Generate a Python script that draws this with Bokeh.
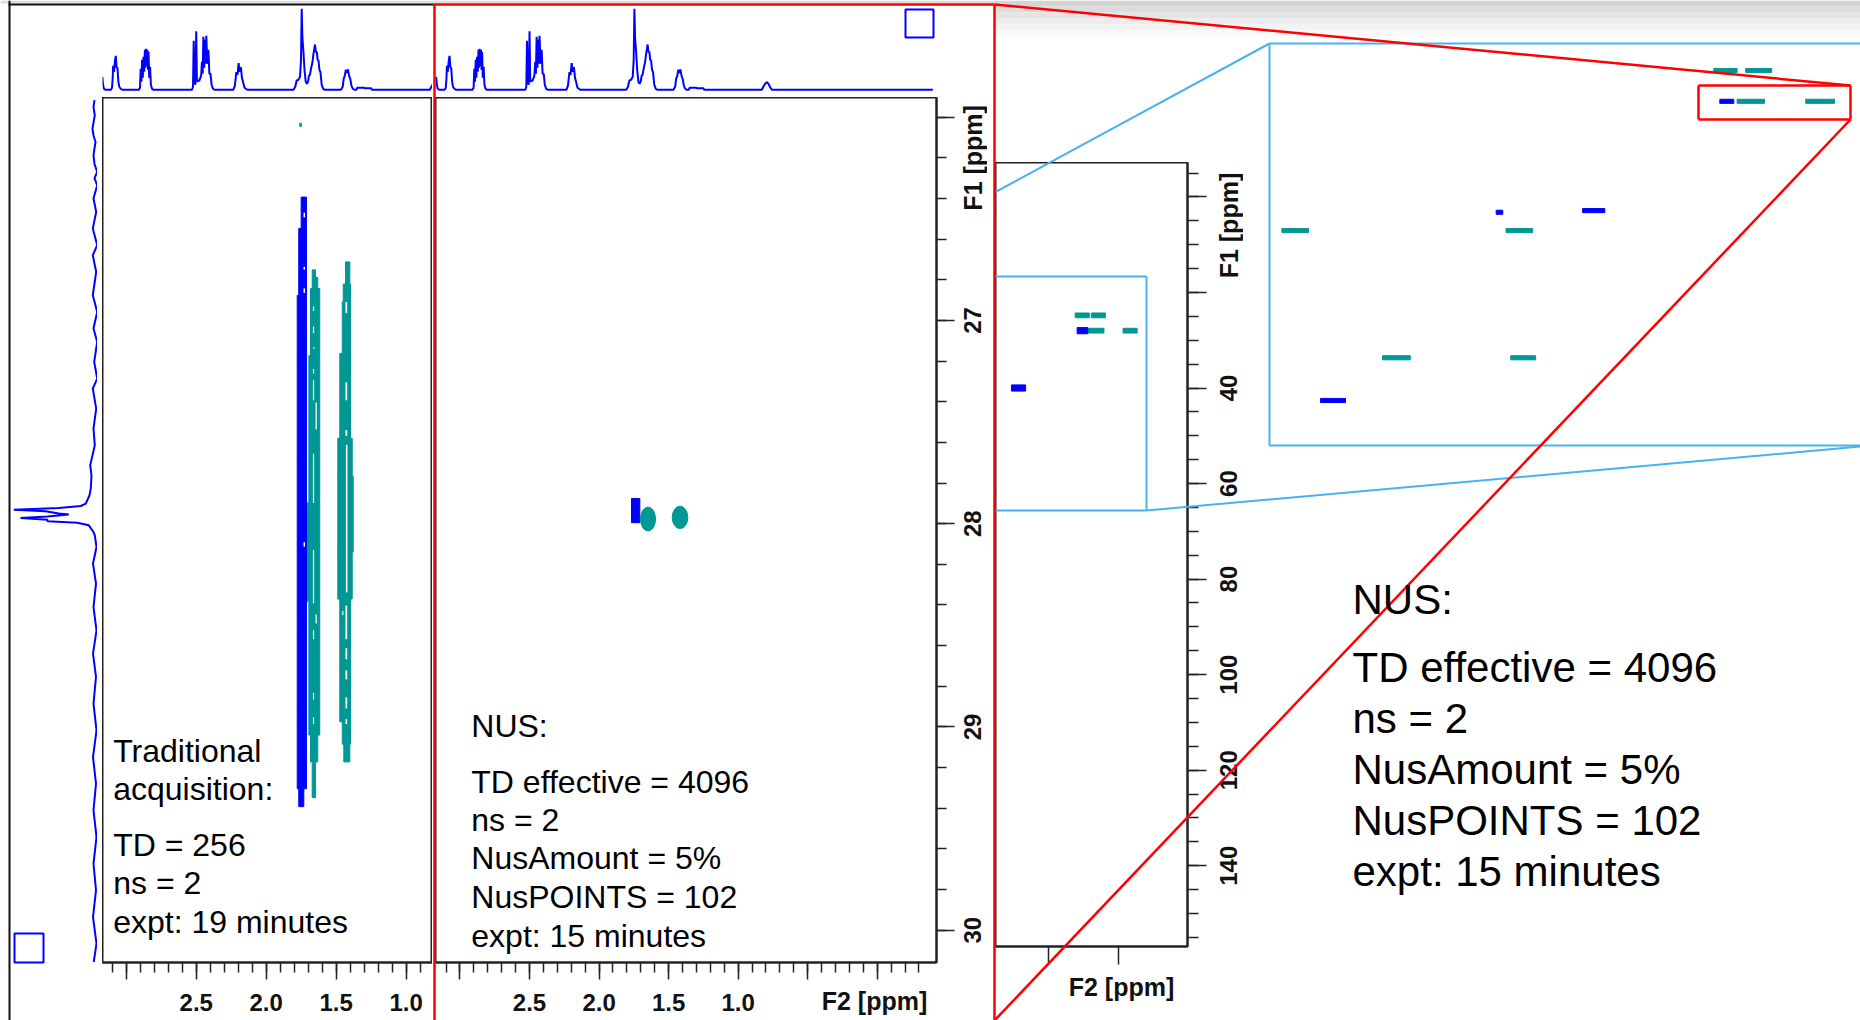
import math
from bokeh.plotting import figure
from bokeh.models import Range1d, LinearAxis, FixedTicker, PrintfTickFormatter, Column
from bokeh.core.properties import value
from bokeh.embed import file_html
from bokeh.resources import INLINE

# ---------------- data ----------------
# 1H 1D spectrum shown above the 2D panels (F2 ppm, intensity)
h_ppm = [3.180, 3.175, 3.171, 3.166, 3.160, 3.150,
         3.110, 3.102, 3.097, 3.094, 3.088, 3.080, 3.075, 3.069, 3.063, 3.057, 3.050, 3.040, 3.030,
         2.910, 2.902, 2.897, 2.892, 2.887, 2.882, 2.877, 2.872, 2.867, 2.863, 2.859, 2.854, 2.849, 2.845, 2.841, 2.836, 2.830, 2.824, 2.816, 2.805,
         2.530, 2.523, 2.518, 2.513, 2.506, 2.500, 2.495, 2.489, 2.479, 2.471, 2.465, 2.459, 2.454, 2.449, 2.443, 2.437, 2.433, 2.428, 2.421, 2.413, 2.406, 2.398, 2.390, 2.380, 2.370,
         2.235, 2.224, 2.213, 2.205, 2.197, 2.189, 2.181, 2.173, 2.165, 2.155, 2.145, 2.135,
         1.805, 1.792, 1.782, 1.770, 1.758, 1.751, 1.746, 1.741, 1.734, 1.726, 1.717, 1.709, 1.701, 1.694, 1.687, 1.681, 1.675, 1.669, 1.663, 1.657, 1.651, 1.645, 1.638, 1.632, 1.626, 1.619, 1.612, 1.603, 1.592, 1.580,
         1.465, 1.453, 1.446, 1.438, 1.430, 1.422, 1.415, 1.407, 1.399, 1.390, 1.380, 1.370,
         1.355, 1.348, 1.300, 1.294, 1.250, 1.244,
         0.830, 0.819, 0.806, 0.792, 0.782, 0.768, 0.756, -0.400]
h_int = [6, 12, 12.7, 5, 1, 0,
         0, 2, 12, 24, 18, 30, 34, 22, 22, 9, 3, 1, 0,
         0, 2, 21, 8, 30, 12, 33, 18, 40, 22, 41, 24, 40, 20, 38, 12, 23, 5, 1, 0,
         0, 3, 49, 9, 5, 58.6, 8, 9, 9, 12, 14, 28, 16, 53, 22, 50, 26, 54, 26, 40, 16, 16, 5, 1, 0,
         0, 4, 17.7, 15, 26.7, 18, 22.7, 12, 7.7, 2, 1, 0,
         0, 3, 9.3, 10, 13, 30, 81, 52, 39, 20, 8, 6, 8, 14, 15, 20, 24, 27.7, 35, 40, 45.3, 38, 37.7, 30, 29.3, 20, 17.7, 5, 1, 0,
         0, 3, 11, 14, 20, 17, 20.3, 14, 11, 4, 1, 0,
         0, 2, 2, 1.5, 1.5, 0,
         0, 3, 6, 7.7, 6, 2, 0, 0]

# 13C projection on the left (F1 ppm, intensity)
c_ppm = [25.916, 25.950, 25.990, 26.056, 26.090, 26.122, 26.187, 26.230, 26.269, 26.300, 26.335, 26.400,
         26.466, 26.548, 26.630, 26.679, 26.761, 26.876, 26.958, 27.040, 27.106, 27.204, 27.286, 27.335,
         27.434, 27.532, 27.614, 27.713, 27.762, 27.827, 27.860, 27.901, 27.913, 27.923, 27.931, 27.939,
         27.950, 27.955, 27.964, 27.972, 27.980, 27.988, 27.995, 28.008, 28.041, 28.057, 28.115, 28.196,
         28.295, 28.410, 28.525, 28.639, 28.754, 28.885, 29.017, 29.148, 29.279, 29.410, 29.542, 29.673,
         29.804, 29.936, 30.066, 30.165]
c_int = [-1, 0, -1.3, 1, 0, -2, 0, -1, -3.7, -1, -3.7, 0,
         -2.7, 0.7, -3.7, 0.7, -2.7, 0.7, -3.7, 0, -3.7, -0.7, -3.7, 0.7,
         -2.7, 0, -1.3, 3.3, 2, 2.7, 4, 7.7, 12.7, 34.7, 79.7, 48,
         34.7, 24.7, 46, 73, 46, 46, 16.3, 4.7, 0, -1.3, -3, 0.5,
         -2.5, 0, -3, 0.5, -2.5, 0, -3, 0.5, -2.5, 0, -3, 0,
         -2.5, 0.5, -3, 0]

# Traditional acquisition: contour streaks (F2 high, F2 low, F1 top, F1 bottom)
trad_blue_x0 = [1.750, 1.767, 1.778, 1.767]
trad_blue_x1 = [1.712, 1.712, 1.712, 1.731]
trad_blue_y0 = [26.393, 26.547, 26.876, 29.304]
trad_blue_y1 = [26.547, 26.876, 29.304, 29.392]

trad_teal_x0 = [1.671, 1.671, 1.683, 1.695, 1.712, 1.695, 1.683, 1.671,
                1.433, 1.449, 1.456, 1.474, 1.488, 1.488, 1.488, 1.474, 1.456, 1.445, 1.760]
trad_teal_x1 = [1.647, 1.631, 1.617, 1.617, 1.617, 1.617, 1.631, 1.647,
                1.402, 1.397, 1.397, 1.397, 1.385, 1.378, 1.385, 1.397, 1.397, 1.402, 1.748]
trad_teal_y0 = [26.751, 26.788, 26.843, 27.173, 27.898, 28.381, 29.040, 29.172,
                26.712, 26.821, 26.909, 27.162, 27.580, 27.766, 28.140, 28.371, 28.974, 29.085, 26.030]
trad_teal_y1 = [26.788, 26.843, 27.173, 27.898, 28.381, 29.040, 29.172, 29.348,
                26.821, 26.909, 27.162, 27.580, 27.766, 28.140, 28.371, 28.974, 29.085, 29.172, 26.045]

# unfilled gaps inside the contour streaks
gap_x0 = [1.666, 1.666, 1.662, 1.666, 1.666, 1.647, 1.666, 1.666, 1.647, 1.666, 1.666, 1.666,
          1.433, 1.433, 1.433, 1.430, 1.433, 1.433, 1.433, 1.433, 1.433, 1.456,
          1.733, 1.733, 1.733, 1.733]
gap_x1 = [1.657, 1.657, 1.655, 1.657, 1.657, 1.638, 1.657, 1.657, 1.638, 1.657, 1.657, 1.657,
          1.421, 1.421, 1.421, 1.419, 1.421, 1.421, 1.421, 1.421, 1.421, 1.448,
          1.722, 1.722, 1.722, 1.722]
gap_y0 = [26.931, 27.030, 27.129, 27.239, 27.294, 27.404, 27.656, 28.129, 28.447, 28.524, 28.832, 28.953,
          26.909, 27.305, 27.539, 27.612, 28.403, 28.612, 28.722, 28.854, 28.962, 28.430,
          26.470, 26.737, 26.842, 28.091]
gap_y1 = [26.953, 27.063, 27.140, 27.261, 27.393, 27.536, 27.898, 28.392, 28.491, 28.568, 28.865, 28.986,
          26.964, 27.393, 27.568, 28.338, 28.568, 28.667, 28.766, 28.909, 28.986, 28.450,
          26.492, 26.750, 26.864, 28.113]

# NUS acquisition: cross peaks
nus_blue_x0 = [1.767]
nus_blue_x1 = [1.707]
nus_blue_y0 = [27.876]
nus_blue_y1 = [27.995]
nus_teal_x = [1.648, 1.418]
nus_teal_y = [27.977, 27.969]
nus_teal_w = [0.108, 0.112]
nus_teal_h = [0.117, 0.110]

# full-range inset: cross peaks (F2 high, F2 low, F1)
ins_teal_x0 = [1.617, 1.390, 1.440, 0.940]
ins_teal_x1 = [1.418, 1.190, 1.210, 0.740]
ins_teal_f1 = [24.8, 24.8, 28.0, 28.0]
ins_blue_x0 = [1.590, 2.520]
ins_blue_x1 = [1.440, 2.320]
ins_blue_f1 = [28.0, 40.0]

# enlarged region: cross peaks (F2 high, F2 low, F1)
zm_teal_x0 = [2.705, 1.888, 2.338, 1.871, 1.046, 0.796, 1.131, 1.015]
zm_teal_x1 = [2.608, 1.791, 2.237, 1.780, 0.946, 0.691, 1.046, 0.920]
zm_teal_f1 = [39.42, 39.42, 54.92, 54.92, 23.69, 23.69, 19.94, 19.94]
zm_blue_x0 = [1.609, 2.564, 1.109, 1.924]
zm_blue_x1 = [1.528, 2.473, 1.058, 1.900]
zm_blue_f1 = [37.0, 60.12, 23.69, 37.2]

# axis ticks and labels
f2_major = [3.0, 2.5, 2.0, 1.5, 1.0, 0.5, 0.0]
f2_minor = [round(3.1 - 0.1 * i, 1) for i in range(35)]
f1_major = [26, 27, 28, 29, 30]
f1_minor = [round(26.0 + 0.2 * i, 1) for i in range(21)]
f1_labels = [27, 28, 29, 30]
ins_f1_major = [0, 20, 40, 60, 80, 100, 120, 140]
ins_f1_minor = [-5 + 5 * i for i in range(33)]
ins_f1_labels = [40, 60, 80, 100, 120, 140]
ins_f2_major = [2.0, 1.0]
f1_title_pos = 26.20      # F1 position of the "F1 [ppm]" title, NUS panel
ins_f1_title_pos = 6.0    # F1 position of the "F1 [ppm]" title, inset

trad_text = ["Traditional", "acquisition:", "TD = 256", "ns = 2", "expt: 19 minutes"]
nus_text = ["NUS:", "TD effective = 4096", "ns = 2", "NusAmount = 5%", "NusPOINTS = 102", "expt: 15 minutes"]

# ---------------- styling ----------------
FONT = "Liberation Sans"
BLUE = "#0000ff"
TEAL = "#009794"
RED = "#ff0000"
LBLUE = "#48b2f0"
FRAME = "#222222"
INK = "#111111"


def panel(left, top, fw, fh, xr, yr, mb_right=0, mb_bottom=0):
    p = figure(frame_width=fw, frame_height=fh, x_range=xr, y_range=yr,
               x_axis_type=None, y_axis_type=None, output_backend="svg",
               toolbar_location=None, min_border_left=0, min_border_top=0,
               min_border_right=mb_right, min_border_bottom=mb_bottom,
               background_fill_color=None, border_fill_color=None,
               outline_line_color=None)
    p.styles = {"position": "absolute", "left": f"{left}px", "top": f"{top}px"}
    return p


def axis(ticks, minor, fmt, overrides=None, out=17, mout=10, standoff=14):
    ax = LinearAxis(ticker=FixedTicker(ticks=ticks, minor_ticks=minor),
                    formatter=PrintfTickFormatter(format=fmt),
                    axis_line_color=FRAME, axis_line_width=2,
                    major_tick_line_color=FRAME, major_tick_line_width=1.5,
                    minor_tick_line_color=FRAME, minor_tick_line_width=1.5,
                    major_tick_in=0, major_tick_out=out, minor_tick_in=0, minor_tick_out=mout,
                    major_label_text_font=FONT, major_label_text_font_style="bold",
                    major_label_text_font_size="24px", major_label_text_color=INK,
                    major_label_standoff=standoff)
    if overrides:
        ax.major_label_overrides = overrides
    return ax


def vlabels(p, f1_vals, title_pos):
    # rotated tick labels and axis title, placed on the shared F1 scale
    p.text(x=[0.5] * len(f1_vals), y=f1_vals, text=[str(v) for v in f1_vals], angle=math.pi / 2,
           text_font=value(FONT), text_font_style="bold", text_font_size="24px",
           text_align="center", text_baseline="middle", text_color=INK)
    p.text(x=[0.5], y=[title_pos], text=["F1 [ppm]"], angle=math.pi / 2,
           text_font=value(FONT), text_font_style="bold", text_font_size="25px",
           text_align="center", text_baseline="middle", text_color=INK)


F2_LEFT = Range1d(3.170, 0.811)
F2_MID = Range1d(3.176, -0.426)
F1_RANGE = Range1d(30.159, 25.903)
INS_F1 = Range1d(156.9, -7.2)
SPEC_Y = Range1d(-5.7, 84.3)

figs = []

# top 1D spectra
for left, fw, xr in [(102, 330, F2_LEFT), (435, 501, F2_MID)]:
    t = panel(left, 5, fw, 90, xr, SPEC_Y)
    t.line(h_ppm, h_int, line_color=BLUE, line_width=2)
    figs.append(t)

# left 13C projection
pr = panel(10, 97, 87, 865, Range1d(83, -4), F1_RANGE)
pr.line(c_int, c_ppm, line_color=BLUE, line_width=2)
figs.append(pr)

# traditional acquisition 2D panel
pl = panel(102, 97, 330, 865, F2_LEFT, F1_RANGE, mb_bottom=60)
pl.outline_line_color = FRAME
pl.outline_line_width = 2
pl.quad(left=trad_teal_x0, right=trad_teal_x1, top=trad_teal_y0, bottom=trad_teal_y1,
        fill_color=TEAL, line_color=TEAL, line_width=1)
pl.quad(left=trad_blue_x0, right=trad_blue_x1, top=trad_blue_y0, bottom=trad_blue_y1,
        fill_color=BLUE, line_color=BLUE, line_width=1)
pl.quad(left=gap_x0, right=gap_x1, top=gap_y0, bottom=gap_y1, fill_color="white", line_color=None)
pl.add_layout(axis(f2_major, f2_minor, "%.1f", {3.0: ""}), "below")
figs.append(pl)

# NUS 2D panel
pm = panel(435, 97, 501, 865, F2_MID, F1_RANGE, mb_right=20, mb_bottom=60)
pm.outline_line_color = FRAME
pm.outline_line_width = 2
pm.quad(left=nus_blue_x0, right=nus_blue_x1, top=nus_blue_y0, bottom=nus_blue_y1,
        fill_color=BLUE, line_color=BLUE)
pm.ellipse(x=nus_teal_x, y=nus_teal_y, width=nus_teal_w, height=nus_teal_h,
           fill_color=TEAL, line_color=TEAL)
pm.add_layout(axis(f2_major, f2_minor, "%.1f", {3.0: "", 0.5: "", 0.0: ""}), "below")
pm.add_layout(axis(f1_major, f1_minor, "%d", {v: "" for v in f1_major}, out=18, mout=10, standoff=4), "right")
figs.append(pm)

# rotated F1 labels of the NUS panel
pml = panel(957, 97, 30, 865, Range1d(0, 1), F1_RANGE)
vlabels(pml, f1_labels, f1_title_pos)
figs.append(pml)

# full range inset
pi = panel(995, 162, 192, 784, Range1d(2.746, 0.027), INS_F1, mb_right=20, mb_bottom=40)
pi.outline_line_color = FRAME
pi.outline_line_width = 2
pi.quad(left=ins_teal_x0, right=ins_teal_x1,
        top=[f - 0.5 for f in ins_teal_f1], bottom=[f + 0.5 for f in ins_teal_f1],
        fill_color=TEAL, line_color=TEAL)
pi.quad(left=ins_blue_x0, right=ins_blue_x1,
        top=[f - 0.65 for f in ins_blue_f1], bottom=[f + 0.65 for f in ins_blue_f1],
        fill_color=BLUE, line_color=BLUE)
pi.add_layout(axis(ins_f1_major, ins_f1_minor, "%d", {v: "" for v in ins_f1_major},
                   out=19, mout=11, standoff=4), "right")
pi.add_layout(axis(ins_f2_major, [], "%.1f", {2.0: "", 1.0: ""}, out=18, mout=0, standoff=4), "below")
figs.append(pi)

pil = panel(1213, 162, 30, 784, Range1d(0, 1), INS_F1)
vlabels(pil, ins_f1_labels, ins_f1_title_pos)
figs.append(pil)

# enlarged region
pz = panel(1269, 43, 590, 402, Range1d(2.75, 0.60), Range1d(65.6, 16.65))
pz.quad(left=zm_teal_x0, right=zm_teal_x1,
        top=[f - 0.25 for f in zm_teal_f1], bottom=[f + 0.25 for f in zm_teal_f1],
        fill_color=TEAL, line_color=TEAL)
pz.quad(left=zm_blue_x0, right=zm_blue_x1,
        top=[f - 0.25 for f in zm_blue_f1], bottom=[f + 0.25 for f in zm_blue_f1],
        fill_color=BLUE, line_color=BLUE)
figs.append(pz)

# overlay: slide decorations, zoom connectors and text
ov = panel(0, 0, 1860, 1020, Range1d(0, 1860), Range1d(1020, 0))
ov.quad(left=[994] * 6 + [0], right=[1860] * 6 + [994],
        top=[0, 6, 12, 18, 24, 30, 0], bottom=[6, 12, 18, 24, 30, 36, 3],
        fill_color=["#d4d4d4", "#dcdcdc", "#e4e4e4", "#ececec", "#f3f3f3", "#f9f9f9", "#dedede"],
        line_color=None)
ov.segment(x0=[9, 8], y0=[0, 4], x1=[9, 434], y1=[1020, 4], line_color=INK, line_width=2)
ov.segment(x0=[994, 1146, 1146, 1269, 1269, 1269, 994, 1146],
           y0=[276, 276, 510, 43, 43, 445, 192, 510],
           x1=[1146, 1146, 994, 1269, 1860, 1860, 1269, 1860],
           y1=[276, 510, 510, 445, 43, 445, 43, 446],
           line_color=LBLUE, line_width=2)
ov.segment(x0=[434, 994, 434, 994, 994, 1698, 1698, 1850, 1698],
           y0=[4, 4, 4, 4, 1020, 85, 119, 85, 85],
           x1=[434, 994, 994, 1850, 1850, 1850, 1850, 1850, 1698],
           y1=[1020, 1020, 4, 85, 119, 85, 119, 119, 119],
           line_color=RED, line_width=2.5)
ov.quad(left=[905, 14], right=[933, 43], top=[9, 933], bottom=[37, 962],
        fill_color=None, line_color=BLUE, line_width=2)

ov.text(x=[874, 1121], y=[1000, 986], text=["F2 [ppm]", "F2 [ppm]"],
        text_font=value(FONT), text_font_style="bold", text_font_size="25px",
        text_align="center", text_baseline="middle", text_color=INK)
ov.text(x=[112.7] * 5, y=[750.7, 788.7, 844.4, 882.4, 921.5], text=trad_text,
        text_font=value(FONT), text_font_size="32px", text_baseline="middle", text_color="black")
ov.text(x=[470.8] * 6, y=[725.8, 781.6, 819.5, 857.5, 896.6, 935.7], text=nus_text,
        text_font=value(FONT), text_font_size="32px", text_baseline="middle", text_color="black")
ov.text(x=[1352] * 6, y=[598.9, 666.5, 717.5, 768.5, 819.5, 870.5], text=nus_text,
        text_font=value(FONT), text_font_size="42px", text_baseline="middle", text_color="black")
figs.append(ov)

root = Column(children=figs, width=1860, height=1020, sizing_mode="fixed",
              styles={"position": "relative"})

open("out.html", "w").write(file_html(root, INLINE, "NUS HSQC comparison"))
